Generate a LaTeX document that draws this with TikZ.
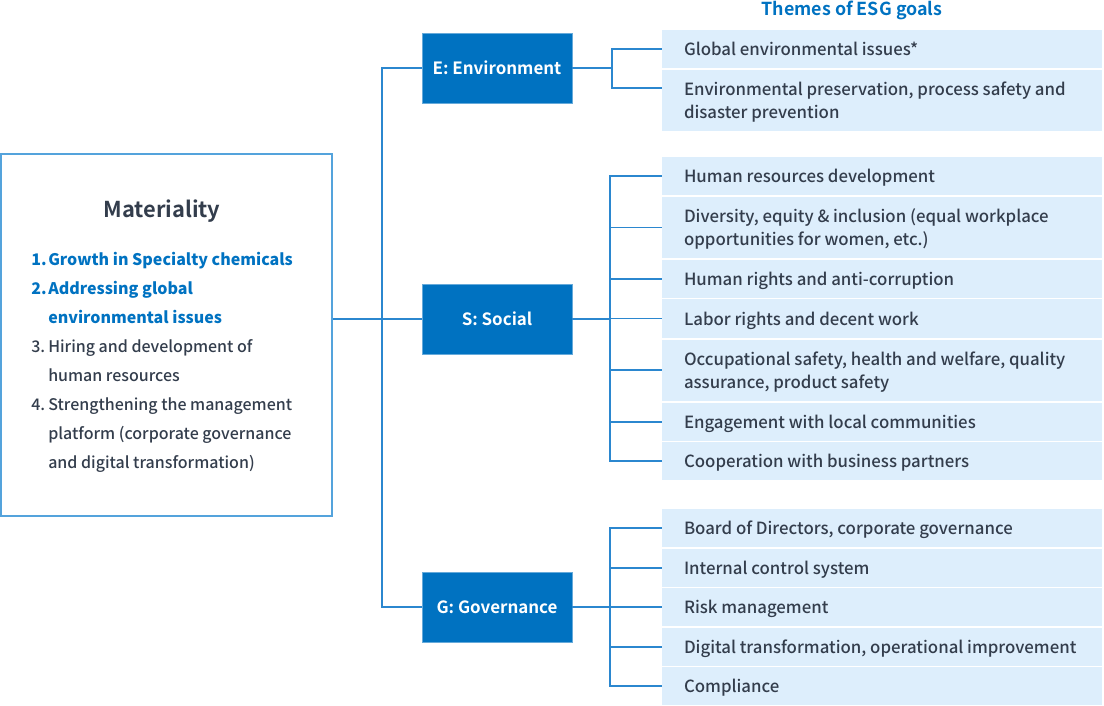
\documentclass[tikz,border=0pt]{standalone}
\usepackage{fontspec}
\setmainfont{Noto Sans CJK JP}[BoldFont={Noto Sans CJK JP Bold}]
\newfontfamily\medfont{Noto Sans CJK JP Medium}
\usetikzlibrary{calc}
\definecolor{esgblue}{RGB}{0,114,193}
\definecolor{themefill}{RGB}{221,238,252}
\definecolor{linkblue}{RGB}{43,135,207}
\definecolor{matborder}{RGB}{84,163,220}
\definecolor{textdark}{RGB}{51,61,76}
\newcommand{\itemno}[1]{\makebox[12.75pt][l]{#1}}
\newcommand{\themetext}[1]{\makebox[297pt][l]{\raisebox{-1.5pt}[\height][\depth]{\begin{tabular}{@{}l@{}}#1\end{tabular}}}}

\begin{document}
\begin{tikzpicture}[x=0.75pt,y=-0.75pt,
    link/.style={draw=linkblue,line width=1.3pt},
    pillar/.style={draw=esgblue!60,fill=esgblue,text=white,minimum width=112.5pt,minimum height=52.5pt,font=\fontsize{12.7}{16}\selectfont\bfseries},
    theme/.style={fill=themefill,text=textdark,inner xsep=16.5pt,inner ysep=0pt,minimum width=330pt,font=\fontsize{12.6}{17.25}\selectfont\medfont}]
  \useasboundingbox (0,0) rectangle (1104,706);

  % materiality
  \node[draw=matborder,line width=1.1pt,minimum width=248.25pt,minimum height=271.5pt] (mat) at (166.5,335) {};
  \node[text=textdark,font=\fontsize{16.4}{20}\selectfont\bfseries] (mattitle) at (162,211.5) {Materiality};
  \node[anchor=north west,inner sep=0pt,text=textdark,font=\fontsize{12}{21.75}\selectfont\medfont] (matitems) at (31,244.5) {%
    \begin{tabular}{@{}l@{}l@{}}
      \color{esgblue}\bfseries\itemno{1.} & \color{esgblue}\bfseries Growth in Specialty chemicals\\
      \color{esgblue}\bfseries\itemno{2.} & \color{esgblue}\bfseries Addressing global\\
       & \color{esgblue}\bfseries environmental issues\\
      \itemno{3.} & Hiring and development of\\
       & human resources\\
      \itemno{4.} & Strengthening the management\\
       & platform (corporate governance\\
       & and digital transformation)
    \end{tabular}};

  % E S G
  \node[pillar] (e) at (497,68) {E: Environment};
  \node[pillar] (s) at (497,319) {S: Social};
  \node[pillar] (g) at (497,607) {G: Governance};

  % themes
  \node[anchor=base,text=esgblue,font=\fontsize{13.4}{16}\selectfont\bfseries] (title) at (852,16) {Themes of ESG goals};
  \foreach \n/\y/\h/\txt in {
      e1/49/38/{Global environmental issues*},
      e2/100.5/61/{Environmental preservation, process safety and\\disaster prevention},
      s1/176/38/{Human resources development},
      s2/227.5/61/{Diversity, equity \& inclusion (equal workplace\\opportunities for women, etc.)},
      s3/279/38/{Human rights and anti-corruption},
      s4/318.5/38/{Labor rights and decent work},
      s5/370/61/{Occupational safety, health and welfare, quality\\assurance, product safety},
      s6/422/38/{Engagement with local communities},
      s7/461/38/{Cooperation with business partners},
      g1/528/38/{Board of Directors, corporate governance},
      g2/568/38/{Internal control system},
      g3/607/38/{Risk management},
      g4/647/38/{Digital transformation, operational improvement},
      g5/686/38/{Compliance}}
    \node[theme,minimum height=\h*0.75pt] (th-\n) at (882,\y) {\themetext{\txt}};

  % connectors
  \coordinate (trunk) at (382,319);
  \coordinate (efork) at (612,68);
  \coordinate (sfork) at (610,319);
  \coordinate (gfork) at (610,607);
  \draw[link] (s.west -| mat.east) -- (s.west);
  \draw[link] (e.west) -| (trunk) |- (g.west);
  \draw[link] (e.east) -- (efork);
  \draw[link] (th-e1.west) -| (efork);
  \draw[link] ($(th-e2.west)+(0,-12.5)$) -| (efork);
  \draw[link] (s.east) -- (sfork);
  \foreach \i in {1,...,7}
    \draw[link] (th-s\i.west) -| (sfork);
  \draw[link] (g.east) -- (gfork);
  \foreach \i in {1,...,5}
    \draw[link] (th-g\i.west) -| (gfork);
\end{tikzpicture}
\end{document}
